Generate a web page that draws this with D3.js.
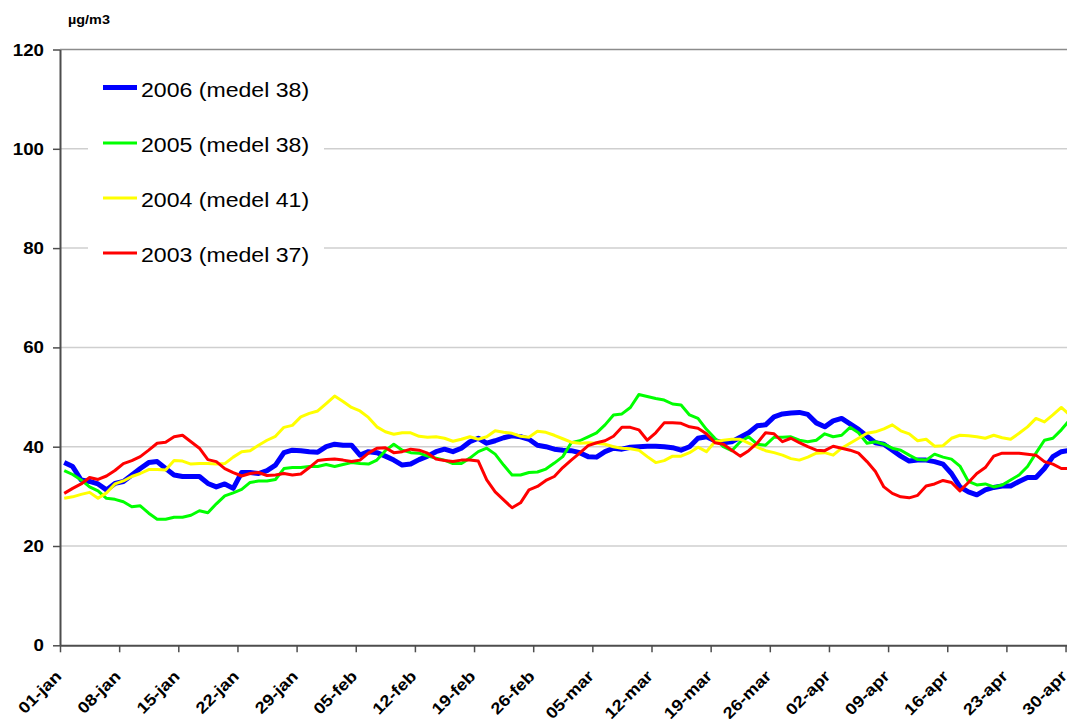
<!DOCTYPE html>
<html>
<head>
<meta charset="utf-8">
<script src="https://cdn.jsdelivr.net/npm/d3@7"></script>
<style>
  body { margin: 0; background: #fff; }
  svg { display: block; font-family: "Liberation Sans", Arial, sans-serif; }
</style>
</head>
<body>
<script>
// one value per day, 01-jan .. 30-apr (120 days)
var tickLabels = ["01-jan","08-jan","15-jan","22-jan","29-jan","05-feb","12-feb","19-feb","26-feb",
  "05-mar","12-mar","19-mar","26-mar","02-apr","09-apr","16-apr","23-apr","30-apr"];
var yTicks = [0, 20, 40, 60, 80, 100, 120];
var unitLabel = "µg/m3";

var names = ["2006 (medel 38)", "2005 (medel 38)", "2004 (medel 41)", "2003 (medel 37)"];

var v2006 = [36.8,36.0,33.3,33.0,32.5,31.3,32.6,33.0,34.3,35.6,
  36.8,37.0,35.6,34.3,34.0,34.0,34.0,32.6,31.9,32.5,
  31.6,34.8,34.8,34.6,35.2,36.3,38.8,39.3,39.2,39.0,
  38.9,40.0,40.5,40.3,40.3,38.3,39.0,38.8,38.1,37.3,
  36.3,36.5,37.4,38.1,39.0,39.5,39.0,39.7,41.0,41.7,
  40.7,41.2,41.8,42.2,42.0,41.5,40.3,40.0,39.5,39.3,
  39.2,38.8,38.0,37.9,39.0,39.7,39.5,39.9,40.0,40.1,
  40.1,40.0,39.8,39.3,40.0,41.7,42.0,41.2,40.8,41.0,
  41.9,42.8,44.2,44.4,46.0,46.6,46.8,46.9,46.5,44.8,
  44.0,45.2,45.7,44.6,43.5,42.1,40.8,40.5,39.3,38.1,
  37.1,37.3,37.3,37.0,36.5,34.6,31.9,30.9,30.3,31.3,
  31.8,32.1,32.1,33.0,33.8,33.8,35.6,38.0,39.0,39.3];

var v2005 = [35.2,34.4,33.3,31.9,31.1,29.6,29.4,28.9,27.9,28.1,
  26.6,25.4,25.4,25.8,25.8,26.2,27.1,26.7,28.5,30.1,
  30.7,31.4,32.8,33.1,33.1,33.4,35.6,35.8,35.8,36.0,
  36.0,36.4,36.0,36.4,36.8,36.6,36.5,37.3,39.2,40.5,
  39.3,38.8,38.7,38.1,37.7,37.3,36.6,36.6,37.7,39.0,
  39.7,38.5,36.3,34.3,34.3,34.8,34.9,35.5,36.7,38.0,
  40.8,41.2,42.0,42.8,44.4,46.4,46.6,47.9,50.5,50.1,
  49.7,49.4,48.6,48.4,46.4,45.7,43.5,41.7,40.0,39.2,
  41.0,42.0,40.5,40.3,41.9,41.9,42.0,41.3,41.0,41.3,
  42.6,42.0,42.3,43.9,42.8,40.7,41.0,40.5,39.7,39.3,
  38.3,37.4,37.3,38.5,37.9,37.5,36.1,33.0,32.3,32.5,
  31.9,32.3,33.3,34.3,36.0,38.7,41.3,41.7,43.4,45.4];

var v2004 = [29.6,29.9,30.4,30.8,29.6,30.7,32.5,33.1,34.0,34.6,
  35.4,35.4,35.3,37.2,37.1,36.5,36.6,36.6,36.5,36.6,
  37.9,39.0,39.2,40.3,41.3,42.1,43.9,44.3,46.0,46.7,
  47.2,48.7,50.2,49.1,47.9,47.2,45.9,44.0,43.0,42.5,
  42.8,42.8,42.1,41.9,42.0,41.7,41.1,41.5,42.0,41.5,
  42.0,43.2,42.9,42.7,42.1,41.9,43.1,42.9,42.3,41.6,
  40.9,40.7,40.8,40.7,40.5,40.0,39.7,39.6,39.3,38.0,
  36.8,37.2,38.1,38.1,38.8,39.9,39.0,41.0,41.3,41.5,
  41.5,40.7,39.9,39.2,38.8,38.3,37.6,37.3,37.9,38.7,
  38.8,38.3,39.7,40.7,41.7,42.7,43.0,43.6,44.4,43.2,
  42.6,41.2,41.5,40.1,40.2,41.7,42.3,42.2,42.0,41.7,
  42.3,41.8,41.5,42.7,44.0,45.7,45.0,46.4,47.9,46.4];

var v2003 = [30.6,31.6,32.5,33.8,33.4,34.1,35.2,36.6,37.2,38.0,
  39.3,40.7,40.9,42.0,42.3,41.0,39.7,37.4,37.0,35.6,
  34.8,34.1,34.6,34.8,34.2,34.3,34.6,34.3,34.5,35.8,
  37.2,37.4,37.5,37.3,37.0,37.3,38.7,39.7,39.8,38.8,
  39.0,39.5,39.3,38.7,37.5,37.2,37.0,37.3,37.3,37.1,
  33.3,30.9,29.3,27.7,28.7,31.3,32.0,33.2,34.0,35.8,
  37.3,38.7,40.2,40.8,41.2,42.1,43.9,43.9,43.4,41.3,
  42.8,44.8,44.8,44.7,44.0,43.7,42.6,40.8,40.5,39.3,
  38.1,39.2,40.7,42.8,42.6,41.0,41.7,40.8,40.0,39.3,
  39.2,40.1,39.7,39.3,38.7,37.0,35.0,31.9,30.6,29.9,
  29.7,30.2,32.1,32.5,33.2,32.8,31.1,32.8,34.6,35.8,
  38.1,38.7,38.7,38.7,38.5,38.3,37.0,36.5,35.6,35.6];

var series = [
  {name: names[0], values: v2006, color: "#0000ff", w: 5},
  {name: names[1], values: v2005, color: "#00ff00", w: 3},
  {name: names[2], values: v2004, color: "#ffff00", w: 3},
  {name: names[3], values: v2003, color: "#ff0000", w: 3}
];

var width = 1067, height = 719;
var dayW = 8.45;
var plotLeft = 60, plotBottom = 645.3, plotTop = 49.5;

var x = d3.scaleLinear().domain([0, 120]).range([plotLeft, plotLeft + 120 * dayW]);
var y = d3.scaleLinear().domain([0, 120]).range([plotBottom, plotTop]);

var svg = d3.select("body").append("svg")
    .attr("width", width)
    .attr("height", height);

// gridlines
svg.append("g").selectAll("line")
    .data(yTicks.filter(function(d) { return d > 0; }))
  .enter().append("line")
    .attr("x1", plotLeft).attr("x2", width)
    .attr("y1", function(d) { return y(d); })
    .attr("y2", function(d) { return y(d); })
    .attr("stroke", function(d) { return d == 120 ? "#8c8c8c" : "#cfcfcf"; })
    .attr("stroke-width", 1.5);

// legend background covers the grid
svg.append("rect")
    .attr("x", 88).attr("y", 60)
    .attr("width", 236).attr("height", 212)
    .attr("fill", "#fff");

// the lines, 2006 first so 2003 ends up on top
var line = d3.line()
    .x(function(d, i) { return x(i + 0.5); })
    .y(function(d) { return y(d); });

svg.append("g").selectAll("path")
    .data(series)
  .enter().append("path")
    .attr("d", function(s) { return line(s.values); })
    .attr("fill", "none")
    .attr("stroke", function(s) { return s.color; })
    .attr("stroke-width", function(s) { return s.w; })
    .attr("stroke-linejoin", "round");

// y axis
var yAxis = svg.append("g")
    .attr("transform", "translate(" + plotLeft + ",0)")
    .call(d3.axisLeft(y).tickValues(yTicks).tickSize(7).tickSizeOuter(0));
yAxis.select(".domain").attr("stroke", "#4d4d4d").attr("stroke-width", 2);
yAxis.selectAll(".tick line").attr("stroke", "#4d4d4d").attr("stroke-width", 1.5);
yAxis.selectAll(".tick text")
    .attr("x", null).attr("dy", null)
    .attr("dominant-baseline", "central")
    .attr("transform", "translate(-16,0) scale(1.17,1)")
    .attr("fill", "#000")
    .style("font-size", "16px")
    .style("font-weight", "bold")
    .style("font-family", "'Liberation Sans', Arial, sans-serif");

// x axis
var xAxis = svg.append("g")
    .attr("transform", "translate(0," + plotBottom + ")")
    .call(d3.axisBottom(x)
      .tickValues(d3.range(0, 120, 7))
      .tickFormat(function(d, i) { return tickLabels[i]; })
      .tickSize(7).tickSizeOuter(0));
xAxis.select(".domain").attr("stroke", "#4d4d4d").attr("stroke-width", 2);
xAxis.selectAll(".tick line").attr("stroke", "#4d4d4d").attr("stroke-width", 1.5);
xAxis.selectAll(".tick text")
    .attr("y", null).attr("dy", null)
    .attr("text-anchor", "end")
    .attr("dominant-baseline", "central")
    .attr("transform", "translate(-2,28) rotate(-45) scale(1.15,1)")
    .attr("fill", "#000")
    .style("font-size", "16px")
    .style("font-weight", "bold")
    .style("font-family", "'Liberation Sans', Arial, sans-serif");

// unit
svg.append("text")
    .attr("transform", "translate(68,19.5) scale(1.2,1)")
    .attr("dominant-baseline", "central")
    .style("font-size", "12px")
    .style("font-weight", "bold")
    .text(unitLabel);

// legend
var legendY = [87.5, 143, 198, 253];
var leg = svg.append("g").selectAll("g")
    .data(series)
  .enter().append("g")
    .attr("transform", function(s, i) { return "translate(0," + legendY[i] + ")"; });
leg.append("line")
    .attr("x1", 103).attr("x2", 137)
    .attr("stroke", function(s) { return s.color; })
    .attr("stroke-width", function(s) { return s.w; });
leg.append("text")
    .attr("transform", "translate(141,2) scale(1.1,1)")
    .attr("dominant-baseline", "central")
    .style("font-size", "21px")
    .text(function(s) { return s.name; });
</script>
</body>
</html>
